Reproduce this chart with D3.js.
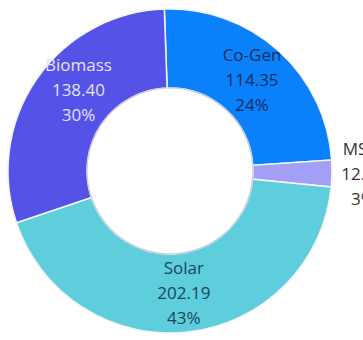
<!DOCTYPE html>
<html>
<head>
<meta charset="utf-8">
<script src="https://cdn.jsdelivr.net/npm/d3@7"></script>
<style>
  body { margin: 0; background: #fff; }
  svg { display: block; }
</style>
</head>
<body>
<div id="chart"></div>
<script>
// slice data, clockwise from the top
const labels = ["Co-Gen", "MSW", "Solar", "Biomass"];
const values = [114.35, 12.40, 202.19, 138.40];
const colors = ["#0a80fa", "#a39ef6", "#5ecedd", "#5552e8"];
const textColors = ["#14305e", "#333333", "#17475a", "#e4e4ff"];

const width = 363, height = 340;
const cx = 170, cy = 171;
const outerR = 162, innerR = 83;
const minLeft = 45; // labels inside the ring keep clear of the left edge

const svg = d3.select("#chart").append("svg")
    .attr("width", width)
    .attr("height", height);

const g = svg.append("g")
    .attr("transform", `translate(${cx}, ${cy})`);

const total = d3.sum(values);
const data = labels.map((d, i) => ({label: d, value: values[i], i: i}));

const start = -2 * Math.PI / 180;
const pie = d3.pie()
    .value(d => d.value)
    .sort(null)
    .startAngle(start)
    .endAngle(start + 2 * Math.PI);

const arc = d3.arc()
    .innerRadius(innerR)
    .outerRadius(outerR);

const arcs = pie(data);

g.selectAll("path.slice")
    .data(arcs)
    .enter()
    .append("path")
    .attr("class", "slice")
    .attr("d", arc)
    .attr("fill", d => colors[d.data.i])
    .attr("stroke", "#f4f4fb")
    .attr("stroke-width", 1.5);

// soft edge round the hole
g.append("circle")
    .attr("r", innerR)
    .attr("fill", "#fff")
    .attr("stroke", "#c9c9d6")
    .attr("stroke-width", 1.2);

// small slices get their label outside the ring
const outsideArc = d3.arc().innerRadius(193).outerRadius(193);
const midR = (innerR + outerR) / 2;

const labelGroups = g.selectAll("g.lbl")
    .data(arcs)
    .enter()
    .append("g")
    .attr("class", "lbl");

labelGroups.each(function(d) {
    let lines = [
        d.data.label,
        d.data.value.toFixed(2),
        Math.round(d.data.value / total * 100) + "%"
    ];
    let grp = d3.select(this);
    grp.selectAll("text")
        .data(lines)
        .enter()
        .append("text")
        .attr("x", 0)
        .attr("y", (t, k) => (k - 1) * 25)
        .attr("dy", "0.35em")
        .attr("text-anchor", "middle")
        .attr("font-family", "'Open Sans', sans-serif")
        .attr("font-size", 17)
        .attr("fill", textColors[d.data.i])
        .text(t => t);

    let share = d.data.value / total;
    let p;
    if (share < 0.05) {
        p = outsideArc.centroid(d);
    } else {
        p = arc.centroid(d);
        let halfW = grp.node().getBBox().width / 2;
        let leftLimit = minLeft - cx + halfW;
        if (p[0] < leftLimit) {
            // slide along the middle of the ring until it fits
            let a = Math.asin(leftLimit / midR);
            p = [leftLimit, -Math.cos(a) * midR * Math.sign(-p[1] || 1)];
        }
    }
    grp.attr("transform", `translate(${p[0]}, ${p[1]})`);
});
</script>
</body>
</html>
